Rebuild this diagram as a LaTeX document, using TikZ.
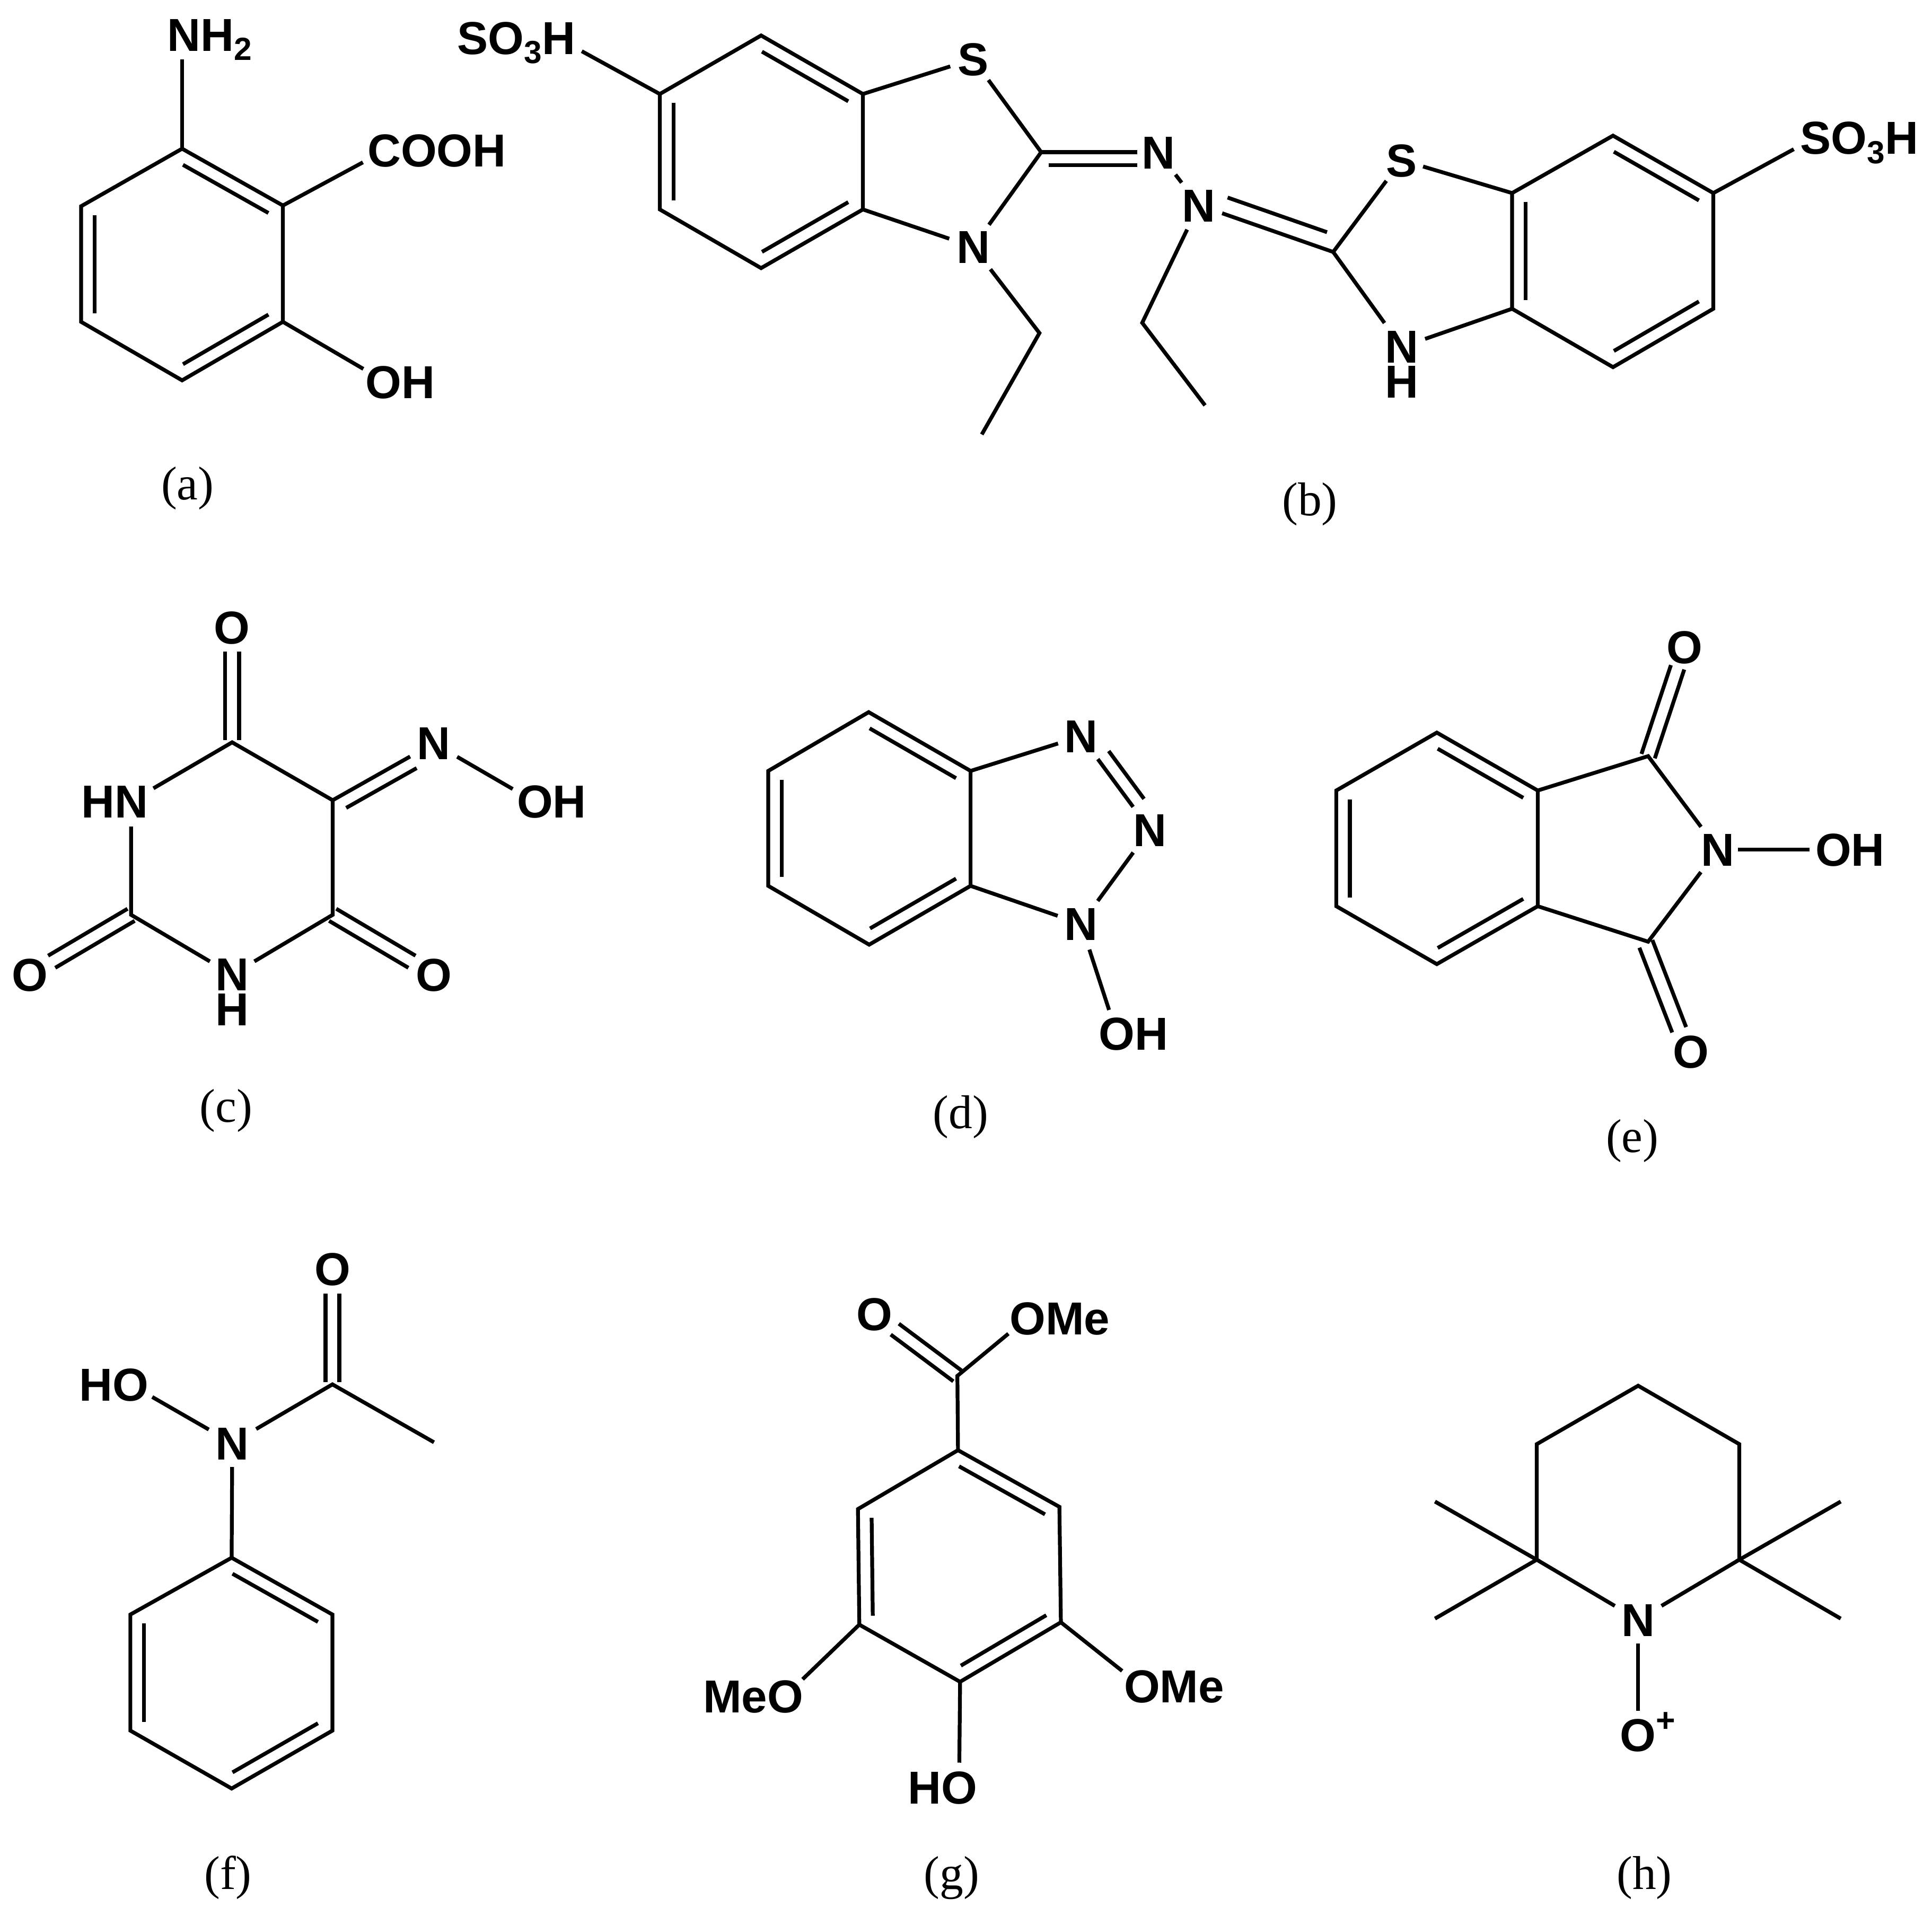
\documentclass[tikz,border=0pt]{standalone}
\usepackage{fontspec}
\setmainfont{Liberation Serif}
\setsansfont{Liberation Sans}
\usetikzlibrary{calc}
% inner line of a ring double bond: ends, ring centre
\newcommand{\dblin}[3]{\draw[bond] ($(#1)!.01!(#2)!.135!(#3)$) -- ($(#2)!.01!(#1)!.135!(#3)$);}
% double bond: from, to, offset 1, offset 2, start gap 1, start gap 2, end gap
\newcommand{\dbond}[7]{%
  \draw[bond,gap={#5}{#7}] ($(#1)!#3!90:(#2)$) -- ($(#2)!#3!-90:(#1)$);
  \draw[bond,gap={#6}{#7}] ($(#1)!#4!90:(#2)$) -- ($(#2)!#4!-90:(#1)$);}
\newcommand{\subs}[1]{\raisebox{-.2em}{\fontsize{26}{26}\selectfont #1}}
\newcommand{\sups}[1]{\raisebox{.42em}{\fontsize{27}{27}\selectfont #1}}
\tikzset{
  bond/.style={line width=3.1pt,black},
  gap/.style 2 args={shorten <=#1,shorten >=#2},
  atom/.style={font=\sffamily\bfseries\fontsize{37.5}{37.5}\selectfont,inner sep=0pt,text height=26.8pt,text depth=0pt},
  atomstack/.style={font=\sffamily\bfseries\fontsize{37.5}{28.5}\selectfont,inner sep=0pt,align=center},
  caplabel/.style={font=\rmfamily\fontsize{38.5}{38.5}\selectfont,inner sep=0pt}
}
\begin{document}
\begin{tikzpicture}[x=1pt,y=-1pt]
\useasboundingbox (0,0) rectangle (1568,1555);
% ---------- (a)
\coordinate (a1) at (147.8,120.7);\coordinate (a2) at (229.6,166.8);\coordinate (a3) at (229.6,261.2);
\coordinate (a4) at (147.8,308.7);\coordinate (a5) at (65.8,261.2);\coordinate (a6) at (65.8,167.4);
\coordinate (ac) at (147.8,214.7);
\node[atom] (aNH) at (170,28) {NH\subs{2}};
\node[atom] (aCO) at (354.5,121.8) {COOH};
\node[atom] (aOH) at (325,310) {OH};
\coordinate (aN) at (147.8,28);\coordinate (aC) at (313,121.8);\coordinate (aO) at (313,310);
\draw[bond] (a1)--(a2)--(a3)--(a4)--(a5)--(a6)--cycle;
\dblin{a1}{a2}{ac}\dblin{a3}{a4}{ac}\dblin{a5}{a6}{ac}
\draw[bond,gap={0pt}{20pt}] (a1)--(aN);
\draw[bond,gap={0pt}{21pt}] (a2)--(aC);
\draw[bond,gap={0pt}{21pt}] (a3)--(aO);
\node[caplabel] (la) at (152.2,396.5) {(a)};
% ---------- (b)
\coordinate (b1) at (617.7,28.8);\coordinate (b2) at (700.3,76.3);\coordinate (b3) at (700.3,170);
\coordinate (b4) at (617.7,217.6);\coordinate (b5) at (535.5,170);\coordinate (b6) at (535.5,76.3);
\coordinate (bc) at (617.7,123);
\coordinate (b7) at (845,123.5);\coordinate (b8) at (843.6,270.3);\coordinate (b9) at (796.8,352.6);
\node[atom] (bS1) at (789.8,48) {S};
\node[atom] (bN1) at (789.8,200.3) {N};
\node[atom] (bN2) at (940,123.5) {N};
\node[atom] (bN3) at (973,166.5) {N};
\node[atom] (bSO1) at (419,30.5) {SO\subs{3}H};
\coordinate (bSa) at (452,30.5);
\coordinate (b10) at (927,262);\coordinate (b11) at (978,329);
\coordinate (b12) at (1082,204.5);
\node[atom] (bS2) at (1137.7,130) {S};
\coordinate (bN4) at (1137.7,281.6);
\node[atomstack] (bNH) at (1137.7,295.8) {N\\H};
\coordinate (r1) at (1227.2,156.7);\coordinate (r2) at (1309.1,110.1);\coordinate (r3) at (1390.5,156.7);
\coordinate (r4) at (1390.5,250.6);\coordinate (r5) at (1309.1,298);\coordinate (r6) at (1227.2,250.6);
\coordinate (rc) at (1309,203.7);
\node[atom] (bSO2) at (1509,111.8) {SO\subs{3}H};
\coordinate (bSb) at (1472.5,112);
\draw[bond] (b1)--(b2)--(b3)--(b4)--(b5)--(b6)--cycle;
\dblin{b1}{b2}{bc}\dblin{b3}{b4}{bc}\dblin{b5}{b6}{bc}
\draw[bond,gap={0pt}{19.5pt}] (b2)--(bS1.center);
\draw[bond,gap={0pt}{20.5pt}] (b3)--(bN1.center);
\draw[bond,gap={21pt}{22pt}] (bS1.center)--(b7)--(bN1.center);
\draw[bond,gap={0pt}{23pt}] (b6)--(bSa);
\dbond{b7}{bN2}{0pt}{-10.5pt}{0pt}{6pt}{17pt}
\draw[bond,gap={23pt}{23pt}] (bN2.center)--(bN3.center);
\draw[bond,gap={23pt}{0pt}] (bN1.center)--(b8)--(b9);
\draw[bond,gap={22pt}{0pt}] (bN3.center)--(b10)--(b11);
\dbond{b12}{bN3}{0pt}{-13.5pt}{0pt}{10pt}{20pt}
\draw[bond,gap={21pt}{24pt}] (bS2.center)--(b12)--(bN4);
\draw[bond,gap={18pt}{0pt}] (bS2.center)--(r1);
\draw[bond,gap={20pt}{0pt}] (bN4)--(r6);
\draw[bond] (r1)--(r2)--(r3)--(r4)--(r5)--(r6)--cycle;
\dblin{r1}{r6}{rc}\dblin{r2}{r3}{rc}\dblin{r4}{r5}{rc}
\draw[bond,gap={0pt}{19pt}] (r3)--(bSb);
\node[caplabel] (lb) at (1063,409) {(b)};
% ---------- (c)
\coordinate (c1) at (188.4,602.5);\coordinate (c2) at (270,649.5);\coordinate (c3) at (270,742.5);
\coordinate (c4) at (106.4,742.5);\coordinate (cN1) at (106.4,650.4);
\node[atom] (cHN) at (93,650.4) {HN};
\coordinate (cN2) at (188.4,791);
\node[atomstack] (cNH) at (188.4,805.3) {N\\H};
\node[atom] (cO1) at (188.4,509) {O};
\node[atom] (cN3) at (352,603.2) {N};
\node[atom] (cOH) at (447.7,650.4) {OH};
\coordinate (cOa) at (433.4,650.4);
\node[atom] (cO2) at (352,791) {O};
\node[atom] (cO3) at (24.3,791) {O};
\draw[bond,gap={21pt}{21pt}] (cN1)--(c1)--(c2)--(c3)--(cN2);
\draw[bond,gap={21pt}{20.5pt}] (cN2)--(c4)--(cN1);
\dbond{c1}{cO1}{5.7pt}{-5.7pt}{2pt}{2pt}{20pt}
\dbond{c2}{cN3}{0pt}{-10.8pt}{0pt}{6.5pt}{22pt}
\draw[bond,gap={22pt}{20pt}] (cN3.center)--(cOa);
\dbond{c3}{cO2}{5.7pt}{-5.7pt}{0pt}{0pt}{20.5pt}
\dbond{c4}{cO3}{5.7pt}{-5.7pt}{0pt}{0pt}{20.5pt}
\node[caplabel] (lc) at (183.5,901.5) {(c)};
% ---------- (d)
\coordinate (d1) at (705,578);\coordinate (d2) at (787.7,625.7);\coordinate (d3) at (787.7,719);
\coordinate (d4) at (705.4,766.7);\coordinate (d5) at (623.5,719);\coordinate (d6) at (623.5,625.7);
\coordinate (dc) at (705.5,672.3);
\node[atom] (dN1) at (877.3,597.6) {N};
\node[atom] (dN2) at (933.3,673.4) {N};
\node[atom] (dN3) at (877.3,749.8) {N};
\node[atom] (dOH) at (920,838.7) {OH};
\coordinate (dOa) at (906.3,838.7);
\draw[bond] (d1)--(d2)--(d3)--(d4)--(d5)--(d6)--cycle;
\dblin{d1}{d2}{dc}\dblin{d3}{d4}{dc}\dblin{d5}{d6}{dc}
\draw[bond,gap={0pt}{19.5pt}] (d2)--(dN1.center);
\draw[bond,gap={0pt}{20pt}] (d3)--(dN3.center);
\dbond{dN1}{dN2}{0pt}{11pt}{23pt}{23pt}{23pt}
\draw[bond,gap={23pt}{23pt}] (dN2.center)--(dN3.center);
\draw[bond,gap={22pt}{20pt}] (dN3.center)--(dOa);
\node[caplabel] (ld) at (779.6,906.5) {(d)};
% ---------- (e)
\coordinate (e1) at (1166.1,594.6);\coordinate (e2) at (1248,641.6);\coordinate (e3) at (1248,735.5);
\coordinate (e4) at (1166.1,782.5);\coordinate (e5) at (1084.5,735.5);\coordinate (e6) at (1084.5,641.6);
\coordinate (ec) at (1166.2,688.5);
\coordinate (e7) at (1337.6,613.7);\coordinate (e8) at (1337.6,764.3);
\node[atom] (eN) at (1394.3,689.5) {N};
\node[atom] (eO1) at (1367,525) {O};
\node[atom] (eO2) at (1372.2,853.6) {O};
\node[atom] (eOH) at (1501.5,689.5) {OH};
\coordinate (eOa) at (1488,689.5);
\draw[bond] (e1)--(e2)--(e3)--(e4)--(e5)--(e6)--cycle;
\dblin{e1}{e2}{ec}\dblin{e3}{e4}{ec}\dblin{e5}{e6}{ec}
\draw[bond,gap={0pt}{23pt}] (e3)--(e8)--(eN.center);
\draw[bond,gap={0pt}{23pt}] (e2)--(e7)--(eN.center);
\draw[bond,gap={16pt}{19.5pt}] (eN.center)--(eOa);
\dbond{e7}{eO1}{5.7pt}{-5.7pt}{0pt}{0pt}{17.5pt}
\dbond{e8}{eO2}{3.7pt}{-8.4pt}{0pt}{2pt}{20pt}
\node[caplabel] (le) at (1324.8,925.8) {(e)};
% ---------- (f)
\coordinate (f1) at (188,1264.3);\coordinate (f2) at (269.8,1310.4);\coordinate (f3) at (269.8,1404.6);
\coordinate (f4) at (188,1451.6);\coordinate (f5) at (105.8,1404.6);\coordinate (f6) at (105.8,1310.4);
\coordinate (fc) at (187.9,1357.5);
\coordinate (f7) at (269.8,1123.6);\coordinate (f8) at (352.2,1170.6);
\node[atom] (fO) at (269.8,1030) {O};
\node[atom] (fN) at (188.5,1171.2) {N};
\node[atom] (fHO) at (92.3,1123.6) {HO};
\coordinate (fOa) at (105.8,1123.6);
\draw[bond] (f1)--(f2)--(f3)--(f4)--(f5)--(f6)--cycle;
\dblin{f1}{f2}{fc}\dblin{f3}{f4}{fc}\dblin{f5}{f6}{fc}
\draw[bond,gap={19.5pt}{0pt}] (fN.center)--(f1);
\draw[bond,gap={22.5pt}{0pt}] (fN.center)--(f7)--(f8);
\dbond{f7}{fO}{5.6pt}{-5.6pt}{2pt}{2pt}{20pt}
\draw[bond,gap={22pt}{20.5pt}] (fN.center)--(fOa);
\node[caplabel] (lf) at (185,1524) {(f)};
% ---------- (g)
\coordinate (g1) at (777.5,1177);\coordinate (g2) at (859.8,1223);\coordinate (g3) at (861,1316.7);
\coordinate (g4) at (779.2,1365);\coordinate (g5) at (697.4,1318.6);\coordinate (g6) at (696.3,1224.8);
\coordinate (gc) at (778.5,1271);
\coordinate (g7) at (777,1116.7);
\node[atom] (gO) at (709.8,1066.5) {O};
\node[atom] (gOMe1) at (860,1069.7) {OMe};
\node[atom] (gMeO) at (611.3,1376.8) {MeO};
\node[atom] (gOMe2) at (952.9,1368.6) {OMe};
\node[atom] (gHO) at (765,1450.6) {HO};
\coordinate (gOa) at (833.8,1069.7);\coordinate (gOb) at (637,1376.8);
\coordinate (gOc) at (926.4,1368.6);\coordinate (gOd) at (778.4,1450.6);
\draw[bond] (g1)--(g2)--(g3)--(g4)--(g5)--(g6)--cycle;
\dblin{g1}{g2}{gc}\dblin{g3}{g4}{gc}\dblin{g5}{g6}{gc}
\draw[bond,gap={0pt}{20pt}] (g1)--(g7)--(gOa);
\dbond{g7}{gO}{5.5pt}{-5.5pt}{0pt}{0pt}{20.5pt}
\draw[bond,gap={0pt}{20pt}] (g5)--(gOb);
\draw[bond,gap={0pt}{20pt}] (g3)--(gOc);
\draw[bond,gap={0pt}{20pt}] (g4)--(gOd);
\node[caplabel] (lg) at (772.3,1524) {(g)};
% ---------- (h)
\node[atom] (hN) at (1329.5,1314.6) {N};
\coordinate (h2) at (1411.6,1265.9);\coordinate (h3) at (1411.6,1172.1);\coordinate (h4) at (1329.5,1124.7);
\coordinate (h5) at (1247.2,1172.1);\coordinate (h6) at (1247.2,1265.9);
\coordinate (h7) at (1493.9,1218.7);\coordinate (h8) at (1493.9,1313.7);
\coordinate (h9) at (1164.6,1218.7);\coordinate (h10) at (1164.6,1313.7);
\node[atom] (hO) at (1337.2,1408) {O\sups{+}};
\coordinate (hOa) at (1329.5,1408);
\draw[bond,gap={22pt}{22pt}] (hN.center)--(h2)--(h3)--(h4)--(h5)--(h6)--(hN.center);
\draw[bond] (h7)--(h2)--(h8);
\draw[bond] (h9)--(h6)--(h10);
\draw[bond,gap={19.5pt}{19.5pt}] (hN.center)--(hOa);
\node[caplabel] (lh) at (1334.5,1524) {(h)};
\end{tikzpicture}
\end{document}
